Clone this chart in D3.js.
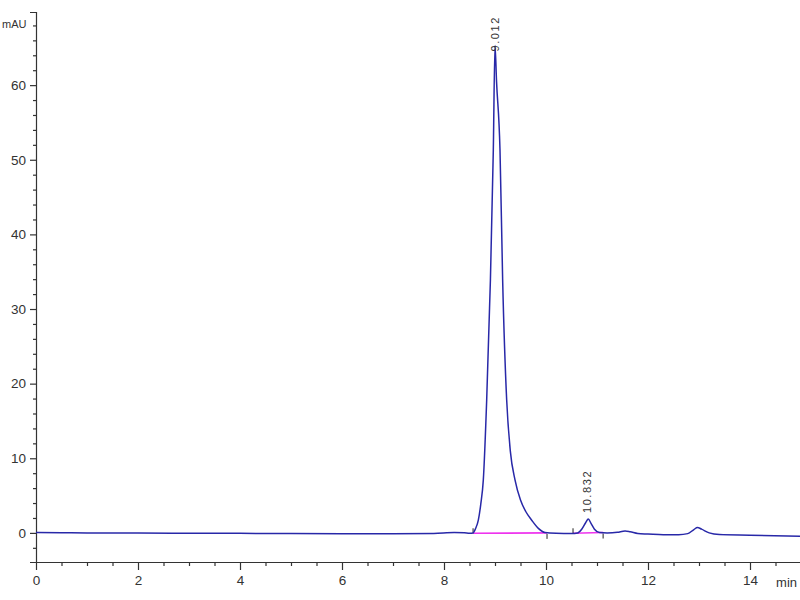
<!DOCTYPE html>
<html><head><meta charset="utf-8">
<script src="https://cdn.jsdelivr.net/npm/d3@7"></script>
<style>
html,body{margin:0;padding:0;background:#fff;}
svg{display:block;}
.tk text{font-family:"Liberation Sans Narrow","Arial Narrow","Liberation Sans",Arial,sans-serif;font-size:13.5px;fill:#333;}
</style></head>
<body>
<script>
// ---- data ----
const timeMin = [0, 0.5, 1, 1.5, 2, 3, 4, 5, 6, 7, 7.8, 8.2, 8.4, 8.5, 8.57, 8.62, 8.673, 8.72, 8.771, 8.837, 8.91, 8.967, 9.0, 9.03, 9.098, 9.15, 9.229, 9.3, 9.392, 9.5, 9.6, 9.72, 9.85, 9.98, 10.2, 10.5, 10.62, 10.7, 10.78, 10.83, 10.88, 10.95, 11.05, 11.2, 11.4, 11.55, 11.65, 11.8, 12.0, 12.3, 12.6, 12.78, 12.9, 12.97, 13.05, 13.2, 13.4, 14.0, 15.0];
const signalMAU = [0.05, 0.03, 0.0, 0.0, -0.02, -0.04, -0.06, -0.08, -0.1, -0.12, -0.08, 0.05, 0.02, -0.04, 0.0, 0.6, 1.7, 3.8, 7.1, 17.8, 33.9, 51.3, 65.3, 60.5, 51.3, 33.9, 17.8, 11.0, 7.1, 4.4, 2.9, 1.7, 0.6, 0.05, -0.05, -0.08, 0.0, 0.5, 1.4, 1.85, 1.3, 0.5, 0.05, 0.0, 0.08, 0.25, 0.15, -0.08, -0.15, -0.25, -0.25, -0.1, 0.45, 0.72, 0.5, 0.0, -0.22, -0.3, -0.45];
const peakTimes = [9.012, 10.832];
const peakHeights = [65.3, 1.85];
const peakLabels = ["9.012", "10.832"];
const baselineStart = [8.57, 10.53];
const baselineEnd = [10.02, 11.12];
const baselineStartVal = [-0.05, -0.05];
const baselineEndVal = [0.0, 0.05];
const xMajorTicks = [0, 2, 4, 6, 8, 10, 12, 14];
const yMajorTicks = [0, 10, 20, 30, 40, 50, 60];
const xTitle = "min";
const yTitle = "mAU";

// ---- layout ----
const W = 800, H = 600;
const svg = d3.select("body").append("svg").attr("width", W).attr("height", H);
const x = d3.scaleLinear().domain([0, 15]).range([36, 801]);
const y = d3.scaleLinear().domain([-3.9, 69.8]).range([562, 12]);

const axisColor = "#333";
const xMinor = d3.range(0, 15.01, 0.5).filter(v => !xMajorTicks.includes(v));
const yMinor = d3.range(-2, 69, 2).filter(v => !yMajorTicks.includes(v));

const gx = svg.append("g").attr("class", "tk").attr("transform", `translate(0,${y.range()[0]})`)
  .call(d3.axisBottom(x).tickValues(xMajorTicks).tickSize(8).tickPadding(5).tickFormat(d3.format("d")));
const gxm = svg.append("g").attr("transform", `translate(0,${y.range()[0]})`)
  .call(d3.axisBottom(x).tickValues(xMinor).tickSize(4).tickFormat(""));
const gy = svg.append("g").attr("class", "tk").attr("transform", `translate(${x(0)},0)`)
  .call(d3.axisLeft(y).tickValues(yMajorTicks).tickSize(6).tickPadding(4).tickFormat(d3.format("d")));
const gym = svg.append("g").attr("transform", `translate(${x(0)},0)`)
  .call(d3.axisLeft(y).tickValues(yMinor).tickSize(3).tickFormat(""));
[gx, gxm, gy, gym].forEach(g => {
  g.selectAll("path.domain").attr("stroke", axisColor).attr("stroke-width", 1.2);
  g.selectAll(".tick line").attr("stroke", axisColor).attr("stroke-width", 1.2);
});
gxm.select("path.domain").remove();
gym.select("path.domain").remove();
gx.select("path.domain").attr("d", `M${x(0)},0.5H${W}`);

svg.append("text").attr("x", 2).attr("y", 28)
  .attr("font-family", "Liberation Sans, Arial, sans-serif").attr("font-size", 11).attr("fill", "#333")
  .text(yTitle);
svg.append("text").attr("x", 797).attr("y", 587).attr("text-anchor", "end")
  .attr("font-family", "Liberation Sans, Arial, sans-serif").attr("font-size", 13).attr("fill", "#333")
  .text(xTitle);

// integration baselines
const pink = "#ee33ee";
baselineStart.forEach((s, i) => {
  svg.append("line")
    .attr("x1", x(s)).attr("y1", y(baselineStartVal[i]))
    .attr("x2", x(baselineEnd[i])).attr("y2", y(baselineEndVal[i]))
    .attr("stroke", pink).attr("stroke-width", 1.6);
  svg.append("line").attr("x1", x(s)).attr("x2", x(s))
    .attr("y1", y(baselineStartVal[i]) - 5).attr("y2", y(baselineStartVal[i]))
    .attr("stroke", "#222").attr("stroke-width", 1);
  svg.append("line").attr("x1", x(baselineEnd[i])).attr("x2", x(baselineEnd[i]))
    .attr("y1", y(baselineEndVal[i]) + 1).attr("y2", y(baselineEndVal[i]) + 6)
    .attr("stroke", "#222").attr("stroke-width", 1);
});

// signal
const pts = timeMin.map((t, i) => [t, signalMAU[i]]);
const line = d3.line().x(d => x(d[0])).y(d => y(d[1])).curve(d3.curveMonotoneX);
svg.append("path").datum(pts).attr("d", line)
  .attr("fill", "none").attr("stroke", "#2828a8").attr("stroke-width", 1.5);

// peak labels
const labelShift = [-6, 6];
peakTimes.forEach((t, i) => {
  const px = x(t) - 1, py = y(peakHeights[i]) - labelShift[i];
  svg.append("text")
    .attr("transform", `translate(${px},${py}) rotate(-90)`)
    .attr("dominant-baseline", "central")
    .attr("font-family", "Liberation Sans, Arial, sans-serif").attr("font-size", 11)
    .attr("letter-spacing", 1.6).attr("fill", "#333")
    .text(peakLabels[i]);
});
</script>
</body></html>
